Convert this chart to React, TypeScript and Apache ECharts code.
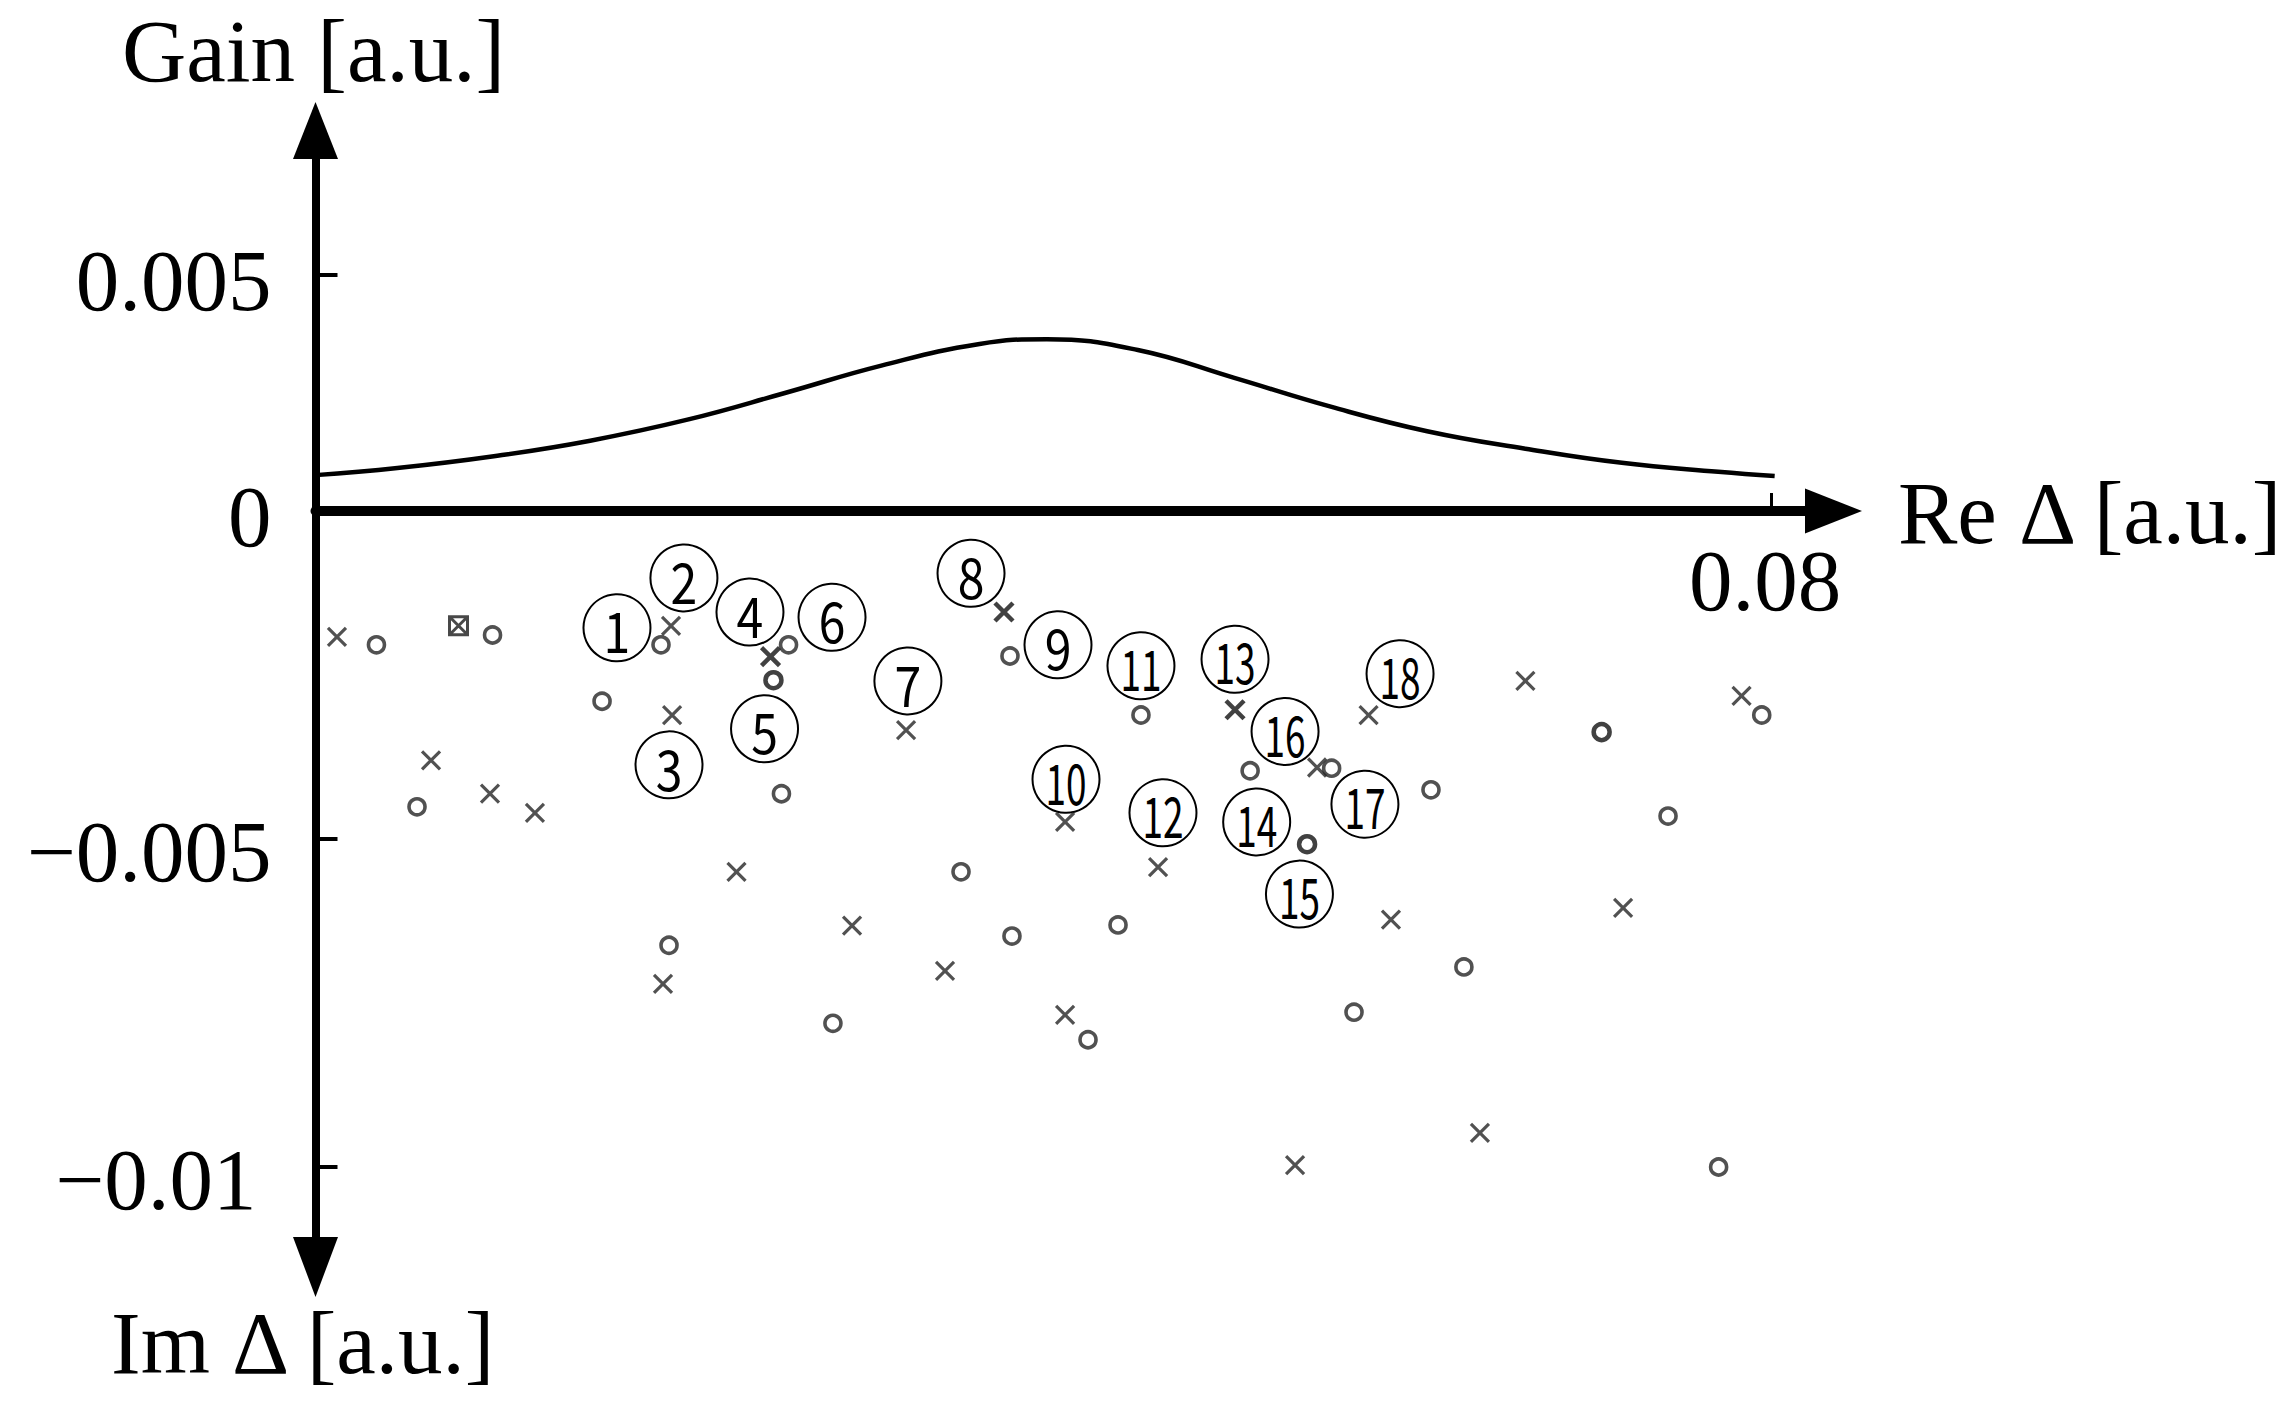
import React, { useEffect, useRef } from "react";
import * as echarts from "echarts";

// ---- Data ----
// Gain curve (upper panel): Re Δ vs Gain
const gainRe = [0, 0.0045, 0.0098, 0.0151, 0.0205, 0.0258, 0.0311, 0.0365, 0.0402, 0.0452, 0.0505, 0.0558, 0.0611, 0.0665, 0.0718, 0.0771, 0.0802];
const gainVal = [0.00076, 0.00091, 0.00116, 0.00149, 0.00194, 0.0025, 0.00308, 0.00354, 0.00364, 0.00341, 0.00282, 0.00221, 0.00169, 0.00132, 0.00102, 0.00083, 0.00074];

// × markers (lower panel): Re Δ, Im Δ
const crossRe = [0.00118, 0.01954, 0.0196, 0.00635, 0.00959, 0.01206, 0.02314, 0.0191, 0.03246, 0.05788, 0.05505, 0.0412, 0.04631, 0.02949, 0.05911, 0.0346, 0.0412, 0.0665, 0.07838, 0.07187, 0.064, 0.05384];
const crossIm = [-0.00192, -0.00175, -0.00311, -0.0038, -0.00431, -0.0046, -0.0055, -0.00721, -0.00334, -0.00311, -0.00391, -0.00474, -0.00543, -0.00632, -0.00623, -0.00701, -0.00768, -0.00259, -0.00282, -0.00605, -0.00948, -0.00997];
const crossBoldRe = [0.02501, 0.03784, 0.05054];
const crossBoldIm = [-0.00222, -0.00154, -0.00303];

// ○ markers
const circleRe = [0.00335, 0.00973, 0.01575, 0.01899, 0.00558, 0.026, 0.02561, 0.01943, 0.03548, 0.03817, 0.04537, 0.05137, 0.05585, 0.06131, 0.02844, 0.03828, 0.04411, 0.04246, 0.05708, 0.06312, 0.07949, 0.07434, 0.07712];
const circleIm = [-0.00204, -0.00189, -0.0029, -0.00204, -0.00451, -0.00204, -0.00431, -0.00662, -0.0055, -0.00221, -0.00311, -0.00396, -0.00392, -0.00425, -0.00781, -0.00648, -0.00631, -0.00806, -0.00764, -0.00695, -0.00311, -0.00465, -0.01];
const circleBoldRe = [0.02517, 0.0545, 0.07069];
const circleBoldIm = [-0.00258, -0.00508, -0.00337];

// boxed marker
const boxedRe = [0.00786];
const boxedIm = [-0.00175];

// circled number labels
const labelNames = ["1", "2", "3", "4", "5", "6", "7", "8", "9", "10", "11", "12", "13", "14", "15", "16", "17", "18"];
const labelRe = [0.01657, 0.02025, 0.01943, 0.02388, 0.02468, 0.02839, 0.03256, 0.03603, 0.04081, 0.04125, 0.04537, 0.04658, 0.05054, 0.05173, 0.05408, 0.05329, 0.05768, 0.05961];
const labelIm = [-0.00178, -0.00102, -0.00387, -0.00154, -0.00332, -0.00162, -0.00259, -0.00095, -0.00204, -0.00409, -0.00236, -0.0046, -0.00226, -0.00474, -0.00584, -0.00336, -0.00447, -0.00248];

// ticks
const xTicks = [0.08];
const gainTicks = [0.005];
const gainLabels = [0, 0.005];
const imTicks = [-0.005, -0.01];

// ---- Layout ----
const X_MAX = 0.083;
const GAIN_MAX = 0.008;
const IM_MIN = -0.0115;
const AX_X = 315.5;
const AX_Y = 511;
const PX_X = 18194;
const PX_G = 47200;
const PX_I = 65600;

const SERIF = "'Liberation Serif', 'Times New Roman', serif";
const CROSS = "path://M0,0L10,10M10,0L0,10";
const BOXED = "path://M0,0L10,0L10,10L0,10Z M0,0L10,10M10,0L0,10";
const MARK = "#262626";

const zip = (a: number[], b: number[]) => a.map((v, i) => [v, b[i]]);
const fmt = (v: number) => String(v).replace("-", "\u2212");

export default function App() {
  const ref = useRef<HTMLDivElement>(null);

  useEffect(() => {
    if (!ref.current) return;
    const chart = echarts.init(ref.current, undefined, { renderer: "svg" });

    const labelBase = { color: "#000", fontSize: 87, fontFamily: SERIF };
    const titleStyle = (text: string) => ({
      text, fontSize: 89, lineHeight: 80, fontFamily: SERIF, fill: "#000",
      align: "left", verticalAlign: "middle", textAlign: "left", textVerticalAlign: "middle",
    });

    const option: any = {
      animation: false,
      backgroundColor: "#fff",
      grid: [
        { left: AX_X, top: AX_Y - GAIN_MAX * PX_G, width: X_MAX * PX_X, height: GAIN_MAX * PX_G, containLabel: false, outerBoundsMode: "none" },
        { left: AX_X, top: AX_Y, width: X_MAX * PX_X, height: -IM_MIN * PX_I, containLabel: false, outerBoundsMode: "none" },
      ],
      xAxis: [
        {
          gridIndex: 0, type: "value", min: 0, max: X_MAX, position: "bottom",
          axisLine: { show: true, onZero: false, lineStyle: { color: "#000", width: 10 } },
          axisTick: { show: true, inside: true, length: 18, customValues: xTicks, lineStyle: { color: "#000", width: 3 } },
          axisLabel: {
            show: true, customValues: xTicks, margin: 26,
            formatter: (v: number) => "{x|" + fmt(v) + "}",
            rich: { x: { ...labelBase, padding: [0, 12, 0, 0] } },
          },
          splitLine: { show: false },
        },
        {
          gridIndex: 1, type: "value", min: 0, max: X_MAX, show: false,
          splitLine: { show: false },
        },
      ],
      yAxis: [
        {
          gridIndex: 0, type: "value", min: 0, max: GAIN_MAX, position: "left",
          axisLine: { show: true, onZero: false, lineStyle: { color: "#000", width: 8 } },
          axisTick: { show: true, inside: true, length: 22, customValues: gainTicks, lineStyle: { color: "#000", width: 4 } },
          axisLabel: {
            show: true, customValues: gainLabels, margin: 44,
            formatter: (v: number) => "{g|" + fmt(v) + "}",
            rich: { g: { ...labelBase, padding: [10, 0, 0, 0] } },
          },
          splitLine: { show: false },
        },
        {
          gridIndex: 1, type: "value", min: IM_MIN, max: 0, position: "left",
          axisLine: { show: true, onZero: false, lineStyle: { color: "#000", width: 8 } },
          axisTick: { show: true, inside: true, length: 22, customValues: imTicks, lineStyle: { color: "#000", width: 4 } },
          axisLabel: {
            show: true, customValues: imTicks, margin: 44,
            formatter: (v: number) => (Math.abs(v + 0.01) < 1e-9 ? "{j|" : "{i|") + fmt(v) + "}",
            rich: {
              i: { ...labelBase, padding: [24, 0, 0, 0] },
              j: { ...labelBase, padding: [24, 15, 0, 0] },
            },
          },
          splitLine: { show: false },
        },
      ],
      series: [
        {
          type: "line", xAxisIndex: 0, yAxisIndex: 0, data: zip(gainRe, gainVal),
          smooth: 0.45, showSymbol: false, silent: true,
          lineStyle: { color: "#000", width: 4.5 },
        },
        {
          type: "custom", xAxisIndex: 1, yAxisIndex: 1, data: zip(labelRe, labelIm), silent: true, z: 2,
          encode: { x: 0, y: 1 },
          renderItem: (params: any, api: any) => {
            const name = labelNames[params.dataIndex];
            const p = api.coord([api.value(0), api.value(1)]);
            return {
              type: "group",
              children: [
                { type: "circle", shape: { cx: p[0], cy: p[1], r: 33.5 }, style: { fill: "#fff", stroke: "#000", lineWidth: 2 } },
                {
                  type: "text", x: p[0], y: p[1] + 1, scaleX: name.length > 1 ? 0.66 : 0.86,
                  style: {
                    text: name, fontSize: 56, fontWeight: 400, fontFamily: "'Noto Sans CJK JP', 'Noto Sans', sans-serif",
                    fill: "#000", align: "center", verticalAlign: "middle",
                    textAlign: "center", textVerticalAlign: "middle",
                  },
                },
              ],
            };
          },
        },
        {
          type: "scatter", xAxisIndex: 1, yAxisIndex: 1, data: zip(crossRe, crossIm), silent: true, z: 3,
          symbol: CROSS, symbolSize: 18,
          itemStyle: { color: "rgba(0,0,0,0)", borderColor: MARK, borderWidth: 3.2 },
        },
        {
          type: "scatter", xAxisIndex: 1, yAxisIndex: 1, data: zip(crossBoldRe, crossBoldIm), silent: true, z: 3,
          symbol: CROSS, symbolSize: 18,
          itemStyle: { color: "rgba(0,0,0,0)", borderColor: "#111", borderWidth: 4.5 },
        },
        {
          type: "scatter", xAxisIndex: 1, yAxisIndex: 1, data: zip(circleRe, circleIm), silent: true, z: 3,
          symbol: "circle", symbolSize: 16,
          itemStyle: { color: "rgba(0,0,0,0)", borderColor: MARK, borderWidth: 3.6 },
        },
        {
          type: "scatter", xAxisIndex: 1, yAxisIndex: 1, data: zip(circleBoldRe, circleBoldIm), silent: true, z: 3,
          symbol: "circle", symbolSize: 16,
          itemStyle: { color: "rgba(0,0,0,0)", borderColor: "#111", borderWidth: 4.5 },
        },
        {
          type: "scatter", xAxisIndex: 1, yAxisIndex: 1, data: zip(boxedRe, boxedIm), silent: true, z: 3,
          symbol: BOXED, symbolSize: 18,
          itemStyle: { color: "rgba(0,0,0,0)", borderColor: "#1a1a1a", borderWidth: 3 },
        },
      ],
      graphic: [
        { type: "polygon", silent: true, z: 10, shape: { points: [[AX_X, 102], [AX_X - 22.5, 159], [AX_X + 22.5, 159]] }, style: { fill: "#000" } },
        { type: "polygon", silent: true, z: 10, shape: { points: [[AX_X, 1297], [AX_X - 22.5, 1237], [AX_X + 22.5, 1237]] }, style: { fill: "#000" } },
        { type: "polygon", silent: true, z: 10, shape: { points: [[1862, AX_Y], [1805, AX_Y - 22.5], [1805, AX_Y + 22.5]] }, style: { fill: "#000" } },
        { type: "text", silent: true, x: 122, y: 51, style: titleStyle("Gain [a.u.]") },
        { type: "text", silent: true, x: 111, y: 1343, style: titleStyle("Im \u0394 [a.u.]") },
        { type: "text", silent: true, x: 1898, y: 513, style: titleStyle("Re \u0394 [a.u.]") },
      ],
    };

    chart.setOption(option);
    return () => chart.dispose();
  }, []);

  return (
    <div
      ref={ref}
      style={{ position: "absolute", left: 0, top: 0, width: 2284, height: 1415, background: "#fff" }}
    />
  );
}
